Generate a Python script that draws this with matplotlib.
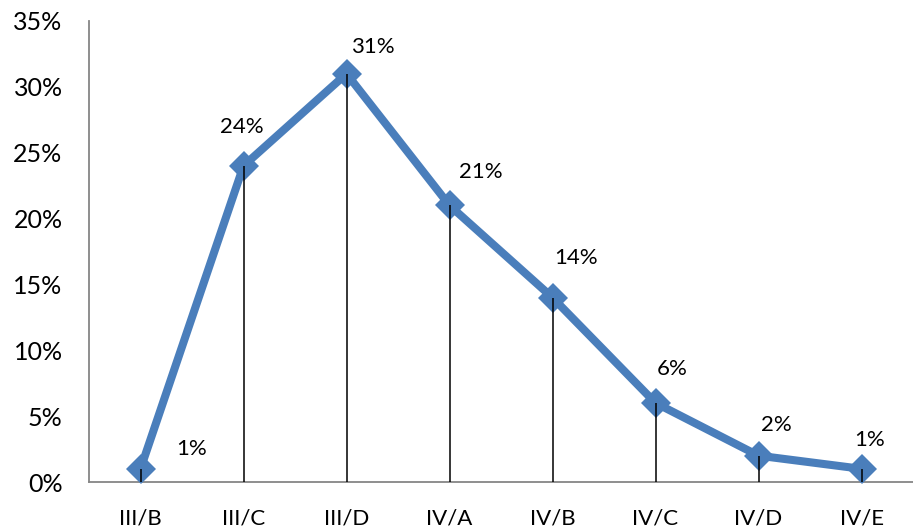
import numpy as np
import matplotlib
matplotlib.use('Agg')
from matplotlib import pyplot as plt
from matplotlib.ticker import FuncFormatter

categories = ['III/B', 'III/C', 'III/D', 'IV/A', 'IV/B', 'IV/C', 'IV/D', 'IV/E']
values = [1, 24, 31, 21, 14, 6, 2, 1]
labels = ['1%', '24%', '31%', '21%', '14%', '6%', '2%', '1%']

# label offsets in pixels (dx, dy), like the manually placed data labels
label_offsets = [(51, 20), (-2, 39), (26, 27), (31, 33), (24, 40), (17, 34), (18, 31), (8, 29)]

line_color = '#4A7EBB'
axis_color = '#868686'

plt.rcParams['font.family'] = ['Lato', 'DejaVu Sans']

fig = plt.figure(figsize=(9.13, 5.28), dpi=100)
ax = fig.add_axes([89 / 913, 46 / 528, 824 / 913, 461 / 528])

x = np.arange(len(categories))
ax.plot(x, values, color=line_color, lw=5.8, marker='D', markersize=15,
        markeredgewidth=0, zorder=3, clip_on=False)
ax.vlines(x, 0, values, color='black', lw=1.1, zorder=4)

for i, (v, lab) in enumerate(zip(values, labels)):
    dx, dy = label_offsets[i]
    ax.annotate(lab, (x[i], v), xytext=(dx * 0.72, dy * 0.72), textcoords='offset points',
                ha='center', va='center', fontsize=16)

ax.set_xlim(-0.5, 7.5)
ax.set_ylim(0, 35)
ax.set_yticks(range(0, 36, 5))
ax.yaxis.set_major_formatter(FuncFormatter(lambda v, p: f'{v:.0f}%'))
ax.set_xticks(x)
ax.set_xticklabels(categories)
ax.tick_params(axis='y', length=0, pad=19, labelsize=18)
ax.tick_params(axis='x', length=0, pad=19, labelsize=16)

for s in ['top', 'right']:
    ax.spines[s].set_visible(False)
for s in ['left', 'bottom']:
    ax.spines[s].set_color(axis_color)
    ax.spines[s].set_linewidth(1.3)

fig.savefig('out.png', dpi=100)
